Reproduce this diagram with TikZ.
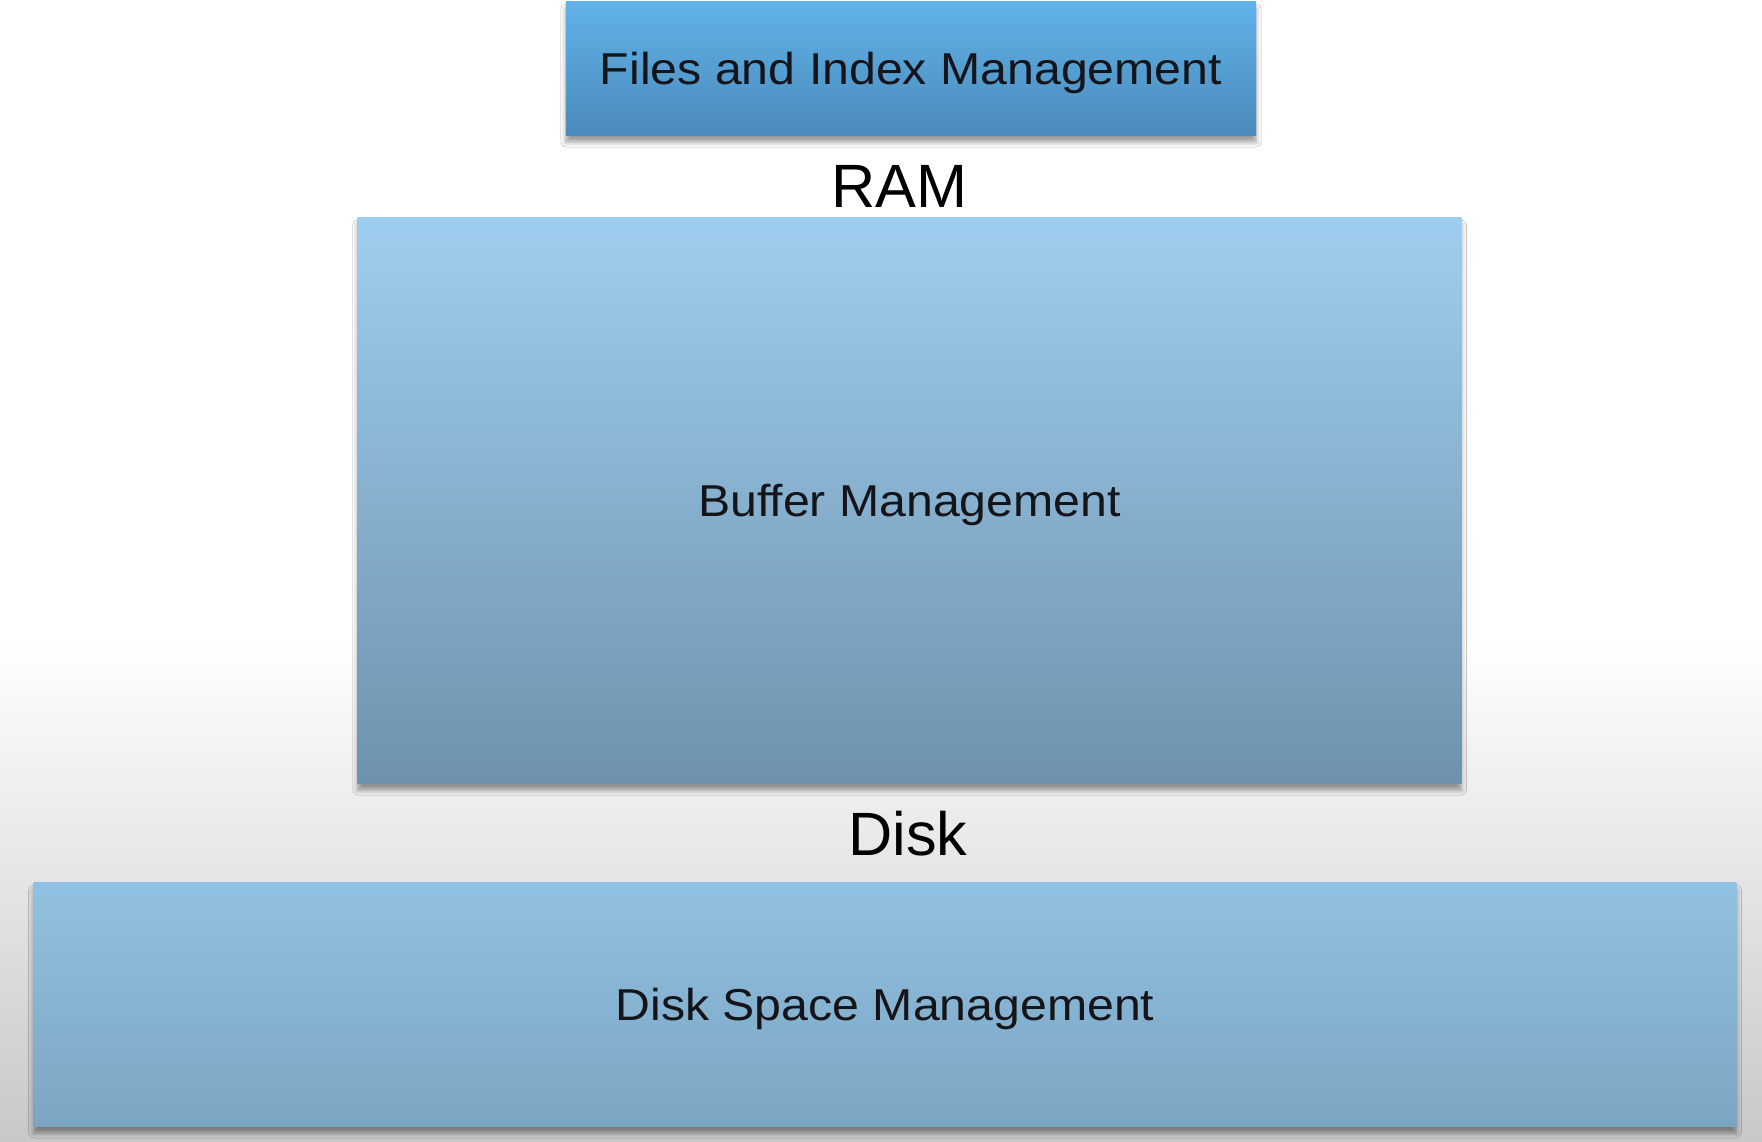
\documentclass[tikz,border=0pt]{standalone}
\usepackage{fontspec}
\setmainfont{Liberation Sans}
\newfontfamily\boxfont[FakeStretch=1.08]{Liberation Sans}
\usetikzlibrary{shadows.blur}
\definecolor{topA}{RGB}{96,178,232}
\definecolor{topB}{RGB}{74,138,188}
\definecolor{bufA}{RGB}{158,206,239}
\definecolor{bufB}{RGB}{110,146,173}
\definecolor{dskA}{RGB}{145,193,226}
\definecolor{dskB}{RGB}{124,165,194}
\definecolor{bgB}{RGB}{200,200,200}
\definecolor{txt}{RGB}{20,20,25}
\begin{document}
\begin{tikzpicture}[x=0.01cm,y=-0.01cm,
  layerbox/.style={rectangle, inner sep=0pt, text=txt,
    font=\boxfont\fontsize{12.7}{15}\selectfont,
    text height=9.1pt, text depth=0pt,
    blur shadow={shadow xshift=0pt, shadow yshift=-2pt,
      shadow blur radius=1.4pt, shadow opacity=40}},
  levellabel/.style={inner sep=0pt, anchor=base, text=black,
    font=\fontsize{17.4}{20}\selectfont}]
\useasboundingbox (0,0) rectangle (1762,1142);
\fill[white] (0,0) rectangle (1762,640);
\shade[top color=white, bottom color=bgB] (0,640) rectangle (1762,1142);

\node[layerbox, top color=topA, bottom color=topB,
  minimum width=6.90cm, minimum height=1.33cm] (files) at (911,68.5)
  {Files and Index Management};
\node[levellabel] (ram) at (899,207) {RAM};
\node[layerbox, top color=bufA, bottom color=bufB,
  minimum width=11.03cm, minimum height=5.65cm] (buffer) at (909.5,500.5)
  {Buffer Management};
\node[levellabel] (disk) at (908,855) {Disk};
\node[layerbox, top color=dskA, bottom color=dskB,
  minimum width=17.02cm, minimum height=2.43cm] (space) at (885,1004.5)
  {Disk Space Management};
\end{tikzpicture}
\end{document}
